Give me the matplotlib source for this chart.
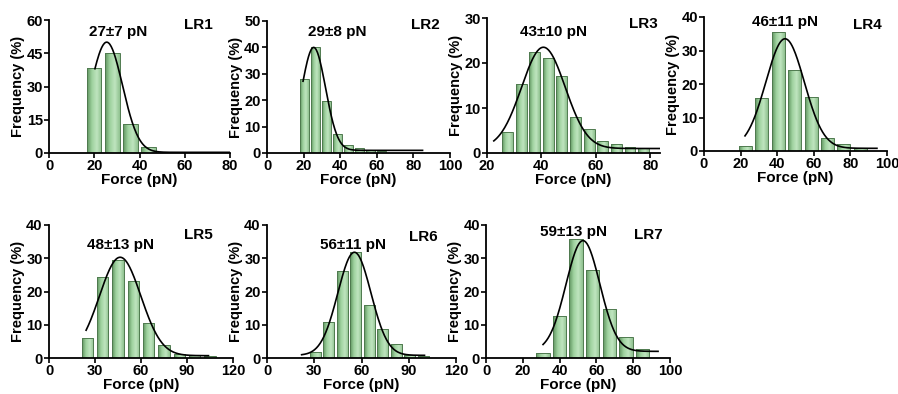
import numpy as np
import matplotlib.pyplot as plt
from matplotlib.colors import LinearSegmentedColormap

plt.rcParams['font.family'] = ['Liberation Sans', 'DejaVu Sans']
plt.rcParams['font.weight'] = 'bold'
plt.rcParams['axes.labelweight'] = 'bold'

names = ['LR1', 'LR2', 'LR3', 'LR4', 'LR5', 'LR6', 'LR7']
fit_labels = ['27±7 pN', '29±8 pN', '43±10 pN', '46±11 pN', '48±13 pN', '56±11 pN', '59±13 pN']

# histogram bars (bin centre, frequency %)
lr1_x = [20, 28, 36, 44]
lr1_y = [38.2, 45.0, 13.3, 2.7]
lr2_x = [20.5, 26.5, 32.5, 38.5, 44.5, 50.5, 56.5, 62.5]
lr2_y = [28.2, 40.3, 19.7, 7.3, 2.9, 1.9, 1.1, 0.8]
lr3_x = [27.5, 32.5, 37.5, 42.5, 47.5, 52.5, 57.5, 62.5, 67.5, 72.5, 77.5]
lr3_y = [4.6, 15.4, 22.4, 21.1, 17.1, 8.0, 5.3, 2.7, 1.9, 1.3, 1.1]
lr4_x = [22.5, 31.5, 40.5, 49.5, 58.5, 67.5, 76.5, 85.5]
lr4_y = [1.6, 15.9, 35.6, 24.3, 16.0, 4.0, 2.1, 0.9]
lr5_x = [25, 35, 45, 55, 65, 75, 85, 95, 105]
lr5_y = [6.1, 24.3, 29.5, 23.2, 10.4, 4.0, 1.1, 0.8, 0.7]
lr6_x = [30.5, 39.1, 47.7, 56.3, 64.9, 73.5, 82.1, 90.7, 99.3]
lr6_y = [1.7, 10.7, 26.1, 31.8, 15.9, 8.8, 4.1, 0.8, 0.5]
lr7_x = [31, 40, 49, 58, 67, 76, 85]
lr7_y = [1.6, 12.6, 35.7, 26.6, 14.6, 6.3, 2.6]

bar_x = [lr1_x, lr2_x, lr3_x, lr4_x, lr5_x, lr6_x, lr7_x]
bar_y = [lr1_y, lr2_y, lr3_y, lr4_y, lr5_y, lr6_y, lr7_y]

# gaussian fits
fit_amp = [49.7, 39.0, 22.5, 32.7, 29.6, 31.0, 33.3]
fit_mu = [25.5, 25.5, 40.7, 44.3, 46.4, 55.5, 52.7]
fit_sd = [7.0, 6.5, 8.0, 10.5, 13.5, 10.5, 9.2]
fit_base = [0.3, 1.0, 1.0, 0.8, 0.7, 0.8, 2.0]
fit_from = [20.3, 19.7, 22.5, 22.4, 24.2, 22.0, 31.0]
fit_to = [80, 85, 84, 94.5, 104, 100, 93.5]

x_ticks = [[0, 20, 40, 60, 80], [0, 20, 40, 60, 80, 100], [20, 40, 60, 80],
           [0, 20, 40, 60, 80, 100], [0, 30, 60, 90, 120], [0, 30, 60, 90, 120],
           [0, 20, 40, 60, 80, 100]]
y_ticks = [[0, 15, 30, 45, 60], [0, 10, 20, 30, 40, 50], [0, 10, 20, 30],
           [0, 10, 20, 30, 40], [0, 10, 20, 30, 40], [0, 10, 20, 30, 40],
           [0, 10, 20, 30, 40]]
x_lims = [(0, 80), (0, 100), (20, 83.5), (0, 100), (0, 120), (0, 120), (0, 100)]

W, H = 898, 394
# axes boxes in pixels: left, top, right, bottom
boxes = [(49, 20, 230, 153), (267, 21, 450, 153), (487, 18, 660, 153), (704, 17, 887, 151),
         (49, 225, 233, 358), (267, 225, 456, 358), (486, 225, 670, 358)]
bar_w = [6.4, 4.7, 4.0, 7.1, 7.4, 7.0, 7.3]
fit_pos = [(118, 32), (337, 32), (553, 32), (785, 22), (120, 245), (353, 245), (573, 232)]
name_pos = [(198, 25), (425, 25), (643, 24), (867, 25), (198, 235), (423, 237), (648, 235)]

# shaded green like the original bars (darker left edge, light middle)
shade = LinearSegmentedColormap.from_list('shade', ['#5e935e', '#9fd29f', '#bfe5bf', '#8fc18f'])
grad = np.linspace(0, 1, 64).reshape(1, -1)

fig = plt.figure(figsize=(W / 100, H / 100), dpi=100)

for i in range(7):
    l, t, r, b = boxes[i]
    ax = fig.add_axes([l / W, 1 - b / H, (r - l) / W, (b - t) / H])
    bars = ax.bar(bar_x[i], bar_y[i], width=bar_w[i], facecolor='none',
                  edgecolor='#4f7a4f', linewidth=0.7, zorder=2)
    for p in bars:
        x0, y0, w, h = p.get_x(), p.get_y(), p.get_width(), p.get_height()
        im = ax.imshow(grad, cmap=shade, extent=(x0, x0 + w, y0, y0 + h),
                       aspect='auto', zorder=1.5, interpolation='bilinear')
        im.set_clip_path(p)
    xs = np.linspace(fit_from[i], fit_to[i], 200)
    ys = fit_base[i] + fit_amp[i] * np.exp(-(xs - fit_mu[i]) ** 2 / (2 * fit_sd[i] ** 2))
    ax.plot(xs, ys, color='black', lw=1.2, zorder=3)
    ax.set_xlim(x_lims[i])
    ax.set_ylim(0, y_ticks[i][-1])
    ax.set_xticks(x_ticks[i])
    ax.set_yticks(y_ticks[i])
    for s in ['top', 'right']:
        ax.spines[s].set_visible(False)
    for s in ['left', 'bottom']:
        ax.spines[s].set_linewidth(1.3)
    ax.tick_params(direction='out', length=3.5, width=1.2, labelsize=10.5, pad=1)
    ax.set_xlabel('Force (pN)', fontsize=11, labelpad=0)
    ax.set_ylabel('Frequency (%)', fontsize=10.5, labelpad=1)

    fig.text(fit_pos[i][0] / W, 1 - fit_pos[i][1] / H, fit_labels[i], fontsize=11,
             ha='center', va='center')
    fig.text(name_pos[i][0] / W, 1 - name_pos[i][1] / H, names[i], fontsize=11,
             ha='center', va='center')

fig.savefig('out.png', dpi=100)
